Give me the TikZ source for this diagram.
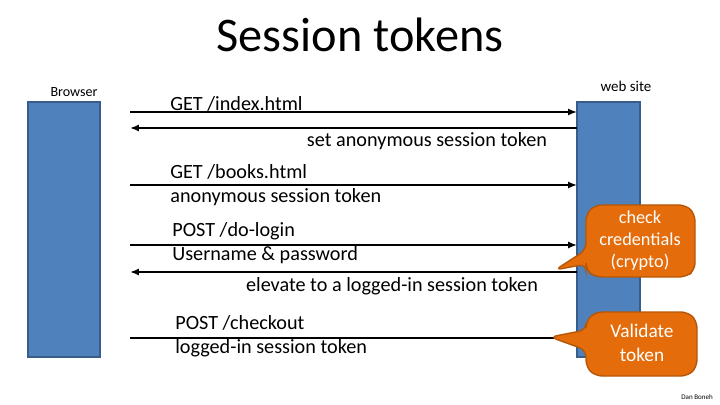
\documentclass[tikz,border=0pt]{standalone}
\usepackage{fontspec}
\setmainfont{Carlito}
\usetikzlibrary{arrows.meta}
\definecolor{barblue}{HTML}{4F81BD}
\definecolor{barline}{HTML}{385D8A}
\definecolor{calloutor}{HTML}{E46C0A}
\definecolor{calloutln}{HTML}{B65708}
\tikzset{
  x=0.02cm,y=-0.02cm,
  bar/.style={fill=barblue,draw=barline,line width=0.8pt},
  msg/.style={-{Latex[length=5pt,width=4pt]},line width=1pt,black},
  lbl/.style={font=\fontsize{11.5}{13.5}\selectfont,inner sep=0pt,align=left},
  callout/.style={fill=calloutor,draw=calloutln,line width=0.8pt,rounded corners=4pt},
  ctext/.style={text=white,font=\fontsize{10.4}{12.5}\selectfont,align=center}
}
\begin{document}
\begin{tikzpicture}
\useasboundingbox (0,0) rectangle (720,405);
\node[font=\fontsize{27.5}{32}\selectfont] (title) at (360,35) {Session tokens};
\node[font=\fontsize{8}{10}\selectfont] (brl) at (74,92) {Browser};
\node[font=\fontsize{8.5}{10}\selectfont] (wsl) at (626,86) {web site};
\draw[bar] (28,102) rectangle (100,357);
\draw[bar] (577,102) rectangle (640,357);
\coordinate (L1) at (130,112); \coordinate (R1) at (577,112);
\coordinate (L2) at (130,128); \coordinate (R2) at (577,128);
\coordinate (L3) at (130,185); \coordinate (R3) at (577,185);
\coordinate (L4) at (130,245); \coordinate (R4) at (577,245);
\coordinate (L5) at (130,272); \coordinate (R5) at (577,272);
\coordinate (L6) at (130,338); \coordinate (R6) at (577,338);
\draw[msg] (L1) -- (R1);
\draw[msg] (R2) -- (L2);
\draw[msg] (L3) -- (R3);
\draw[msg] (L4) -- (R4);
\draw[msg] (R5) -- (L5);
\draw[msg] (L6) -- (R6);
\node[lbl,anchor=west] (t1) at (170,104) {GET /index.html};
\node[lbl] (t2) at (427,141) {set anonymous session token};
\node[lbl,anchor=west] (t3) at (170,185) {GET /books.html\\anonymous session token};
\node[lbl,anchor=west] (t4) at (172,243) {POST /do-login\\Username \& password};
\node[lbl] (t5) at (392,286) {elevate to a logged-in session token};
\node[lbl,anchor=west] (t6) at (175,336) {POST /checkout\\logged-in session token};
\draw[callout] (595,205) -- (686,205) -- (695,214) -- (695,270) -- (686,277) -- (595,277)
  -- (586,270) -- (586,264) -- (555,270) -- (586,250) -- (586,214) -- cycle;
\node[ctext] (c1) at (640,241) {check\\credentials\\(crypto)};
\draw[callout] (595,312) -- (688,312) -- (697,321) -- (697,367) -- (688,376) -- (595,376)
  -- (586,367) -- (586,350) -- (550,337) -- (586,330) -- (586,321) -- cycle;
\node[ctext,font=\fontsize{11}{13.5}\selectfont] (c2) at (642,343) {Validate\\token};
\node[font=\fontsize{4}{5}\selectfont] (dan) at (697,397) {Dan Boneh};
\end{tikzpicture}
\end{document}
